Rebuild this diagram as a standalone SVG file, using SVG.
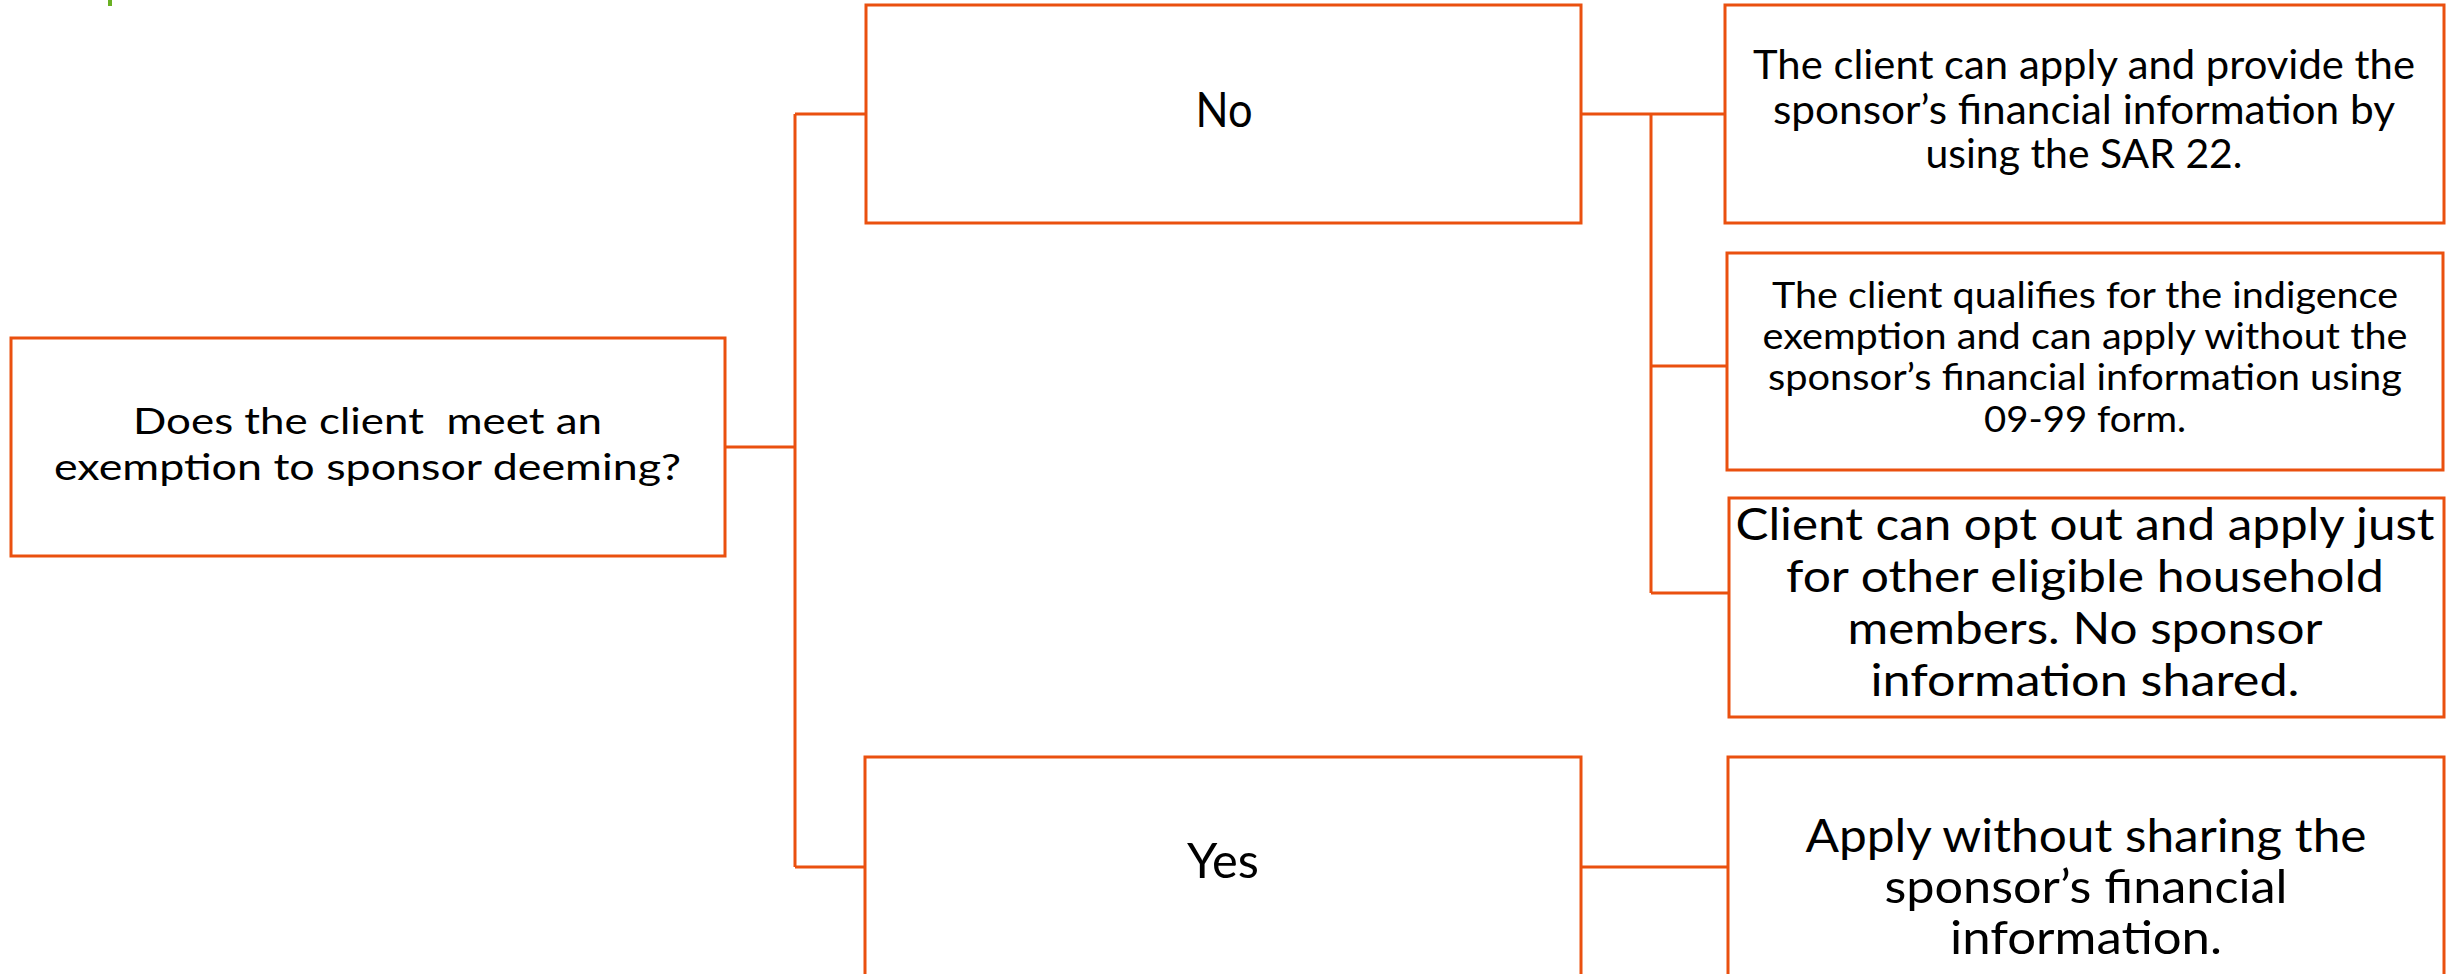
<svg xmlns="http://www.w3.org/2000/svg" width="2453" height="974" viewBox="0 0 2453 974">
<style>
.box{fill:#ffffff;stroke:#EA500F;stroke-width:3}
.con{fill:none;stroke:#EA500F;stroke-width:3}
text{font-family:Lato,"Open Sans","Liberation Sans",sans-serif;fill:#000000;text-anchor:middle}
</style>
<rect x="108" y="0" width="4" height="6" fill="#6AB023"/>
<g id="connectors">
<path class="con" d="M725 447 H795"/>
<path class="con" d="M795 114 V867"/>
<path class="con" d="M795 114 H866"/>
<path class="con" d="M795 867 H865"/>
<path class="con" d="M1581 114 H1725"/>
<path class="con" d="M1651 114 V593"/>
<path class="con" d="M1651 366 H1727"/>
<path class="con" d="M1651 593 H1729"/>
<path class="con" d="M1581 867 H1728"/>
</g>
<g id="root">
<rect class="box" x="11" y="338" width="714" height="218"/>
<text font-size="36" x="367.5" y="434" textLength="469" lengthAdjust="spacingAndGlyphs" xml:space="preserve">Does the client  meet an</text>
<text font-size="36" x="367.5" y="480" textLength="627" lengthAdjust="spacingAndGlyphs">exemption to sponsor deeming?</text>
</g>
<g id="no">
<rect class="box" x="866" y="5" width="715" height="218"/>
<text font-size="48" x="1224" y="127" textLength="57" lengthAdjust="spacingAndGlyphs">No</text>
</g>
<g id="yes">
<rect class="box" x="865" y="757" width="716" height="240"/>
<text font-size="48" x="1223" y="878" textLength="72" lengthAdjust="spacingAndGlyphs">Yes</text>
</g>
<g id="sar22">
<rect class="box" x="1725" y="5" width="719" height="218"/>
<text font-size="40" x="2084" y="79" textLength="662" lengthAdjust="spacingAndGlyphs">The client can apply and provide the</text>
<text font-size="40" x="2084" y="124" textLength="622" lengthAdjust="spacingAndGlyphs">sponsor’s financial information by</text>
<text font-size="40" x="2084" y="168" textLength="317" lengthAdjust="spacingAndGlyphs">using the SAR 22.</text>
</g>
<g id="indigence">
<rect class="box" x="1727" y="253" width="716" height="217"/>
<text font-size="36" x="2085" y="308" textLength="626" lengthAdjust="spacingAndGlyphs">The client qualifies for the indigence</text>
<text font-size="36" x="2085" y="349" textLength="645" lengthAdjust="spacingAndGlyphs">exemption and can apply without the</text>
<text font-size="36" x="2085" y="390" textLength="634" lengthAdjust="spacingAndGlyphs">sponsor’s financial information using</text>
<text font-size="36" x="2085" y="432" textLength="202" lengthAdjust="spacingAndGlyphs">09-99 form.</text>
</g>
<g id="optout">
<rect class="box" x="1729" y="498" width="715" height="219"/>
<text font-size="44" x="2085" y="540" textLength="699" lengthAdjust="spacingAndGlyphs">Client can opt out and apply just</text>
<text font-size="44" x="2085" y="592" textLength="598" lengthAdjust="spacingAndGlyphs">for other eligible household</text>
<text font-size="44" x="2085" y="644" textLength="475" lengthAdjust="spacingAndGlyphs">members. No sponsor</text>
<text font-size="44" x="2085" y="696" textLength="429" lengthAdjust="spacingAndGlyphs">information shared.</text>
</g>
<g id="apply">
<rect class="box" x="1728" y="757" width="716" height="240"/>
<text font-size="46" x="2086" y="852" textLength="561" lengthAdjust="spacingAndGlyphs">Apply without sharing the</text>
<text font-size="46" x="2086" y="903" textLength="403" lengthAdjust="spacingAndGlyphs">sponsor’s financial</text>
<text font-size="46" x="2086" y="954" textLength="272" lengthAdjust="spacingAndGlyphs">information.</text>
</g>
</svg>
